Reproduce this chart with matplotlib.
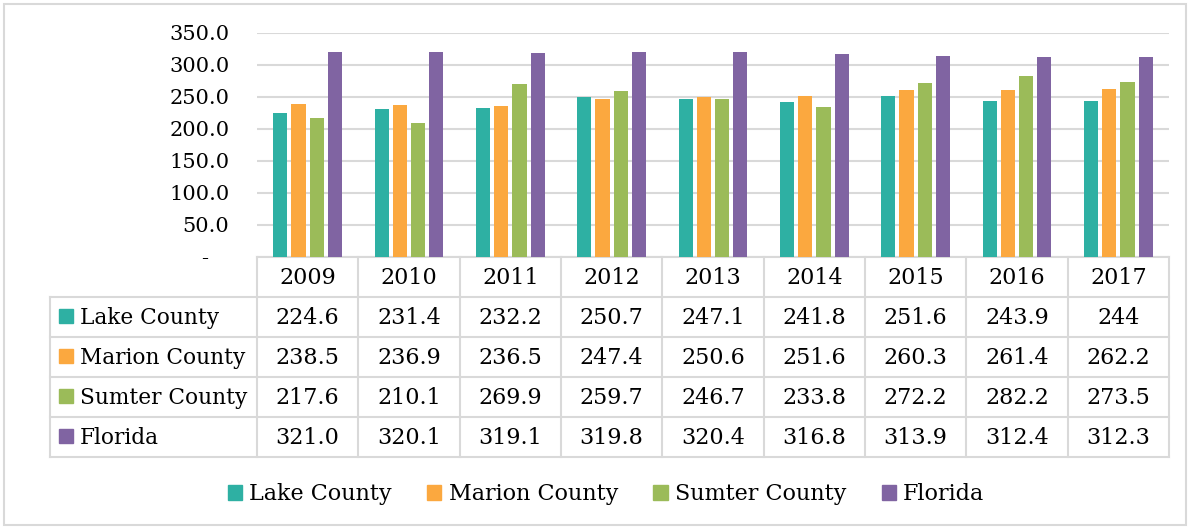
import matplotlib
matplotlib.use("Agg")
import matplotlib.pyplot as plt
from matplotlib.patches import Rectangle
import numpy as np

years = ["2009", "2010", "2011", "2012", "2013", "2014", "2015", "2016", "2017"]
series_names = ["Lake County", "Marion County", "Sumter County", "Florida"]
lake = [224.6, 231.4, 232.2, 250.7, 247.1, 241.8, 251.6, 243.9, 244.0]
marion = [238.5, 236.9, 236.5, 247.4, 250.6, 251.6, 260.3, 261.4, 262.2]
sumter = [217.6, 210.1, 269.9, 259.7, 246.7, 233.8, 272.2, 282.2, 273.5]
florida = [321.0, 320.1, 319.1, 319.8, 320.4, 316.8, 313.9, 312.4, 312.3]
table_text = [
    ["224.6", "231.4", "232.2", "250.7", "247.1", "241.8", "251.6", "243.9", "244"],
    ["238.5", "236.9", "236.5", "247.4", "250.6", "251.6", "260.3", "261.4", "262.2"],
    ["217.6", "210.1", "269.9", "259.7", "246.7", "233.8", "272.2", "282.2", "273.5"],
    ["321.0", "320.1", "319.1", "319.8", "320.4", "316.8", "313.9", "312.4", "312.3"],
]
yticks = [0, 50, 100, 150, 200, 250, 300, 350]
colors = ["#2EB0A3", "#FBA83F", "#9BBB59", "#8064A2"]

W, H = 1190, 529
plt.rcParams['font.family'] = ['DejaVu Serif']
fig = plt.figure(figsize=(W / 100, H / 100), dpi=100)

grid_c = "#D9D9D9"
FS = 16
FS_NAME = 15.6
FS_AX = 15

# overlay axes in pixel coords
ov = fig.add_axes([0, 0, 1, 1])
ov.set_xlim(0, W)
ov.set_ylim(H, 0)
ov.axis("off")
ov.add_patch(Rectangle((4, 4), W - 8, H - 8, fill=False, edgecolor=grid_c, lw=1.5))

# bar axes
px_left, px_right = 257, 1169
px_top, px_base = 33, 257
ax = fig.add_axes([px_left / W, (H - px_base) / H, (px_right - px_left) / W, (px_base - px_top) / H])
ax.set_zorder(2)
ax.patch.set_alpha(0)
ax.set_xlim(-0.5, len(years) - 0.5)
ax.set_ylim(0, 350)
data = [lake, marion, sumter, florida]
n = len(data)
bw = 0.14
gap = 0.04
x = np.arange(len(years))
for i, (vals, c) in enumerate(zip(data, colors)):
    off = (i - (n - 1) / 2) * (bw + gap)
    ax.bar(x + off, vals, width=bw, color=c, zorder=3)
ax.set_yticks(yticks)
ax.set_yticklabels(["-   " if v == 0 else f"{v:.1f}" for v in yticks], fontsize=FS_AX)
ax.tick_params(axis="y", length=0, pad=20)
ax.set_xticks([])
ax.grid(axis="y", color=grid_c, lw=1.5, zorder=0)
for s in ax.spines.values():
    s.set_visible(False)

# table
col_w = (px_right - px_left) / len(years)
row_edges = [257, 297, 337, 377, 417, 457]
tbl_left = 50
lw = 1.5
ov.plot([px_left, px_right], [row_edges[0], row_edges[0]], color=grid_c, lw=lw)
for yv in row_edges[1:]:
    ov.plot([tbl_left, px_right], [yv, yv], color=grid_c, lw=lw)
ov.plot([tbl_left, tbl_left], [row_edges[1], row_edges[-1]], color=grid_c, lw=lw)
for j in range(len(years) + 1):
    xv = px_left + j * col_w
    ov.plot([xv, xv], [row_edges[0], row_edges[-1]], color=grid_c, lw=lw)
for j, yr in enumerate(years):
    ov.text(px_left + (j + 0.5) * col_w, (row_edges[0] + row_edges[1]) / 2 + 1, yr,
            ha="center", va="center", fontsize=FS)
for i, name in enumerate(series_names):
    yc = (row_edges[i + 1] + row_edges[i + 2]) / 2
    ov.add_patch(Rectangle((59, yc - 8), 14, 14, color=colors[i]))
    ov.text(80, yc + 1, name, ha="left", va="center", fontsize=FS_NAME)
    for j in range(len(years)):
        ov.text(px_left + (j + 0.5) * col_w, yc + 1, table_text[i][j],
                ha="center", va="center", fontsize=FS)

# legend
handles = [Rectangle((0, 0), 1, 1, color=c) for c in colors]
fig.legend(handles, series_names, loc="center", bbox_to_anchor=(606 / W, (H - 494) / H),
           ncol=4, frameon=False, fontsize=FS, handlelength=0.64, handleheight=0.64,
           handletextpad=0.32, columnspacing=1.6)

fig.savefig("out.png", dpi=100)
